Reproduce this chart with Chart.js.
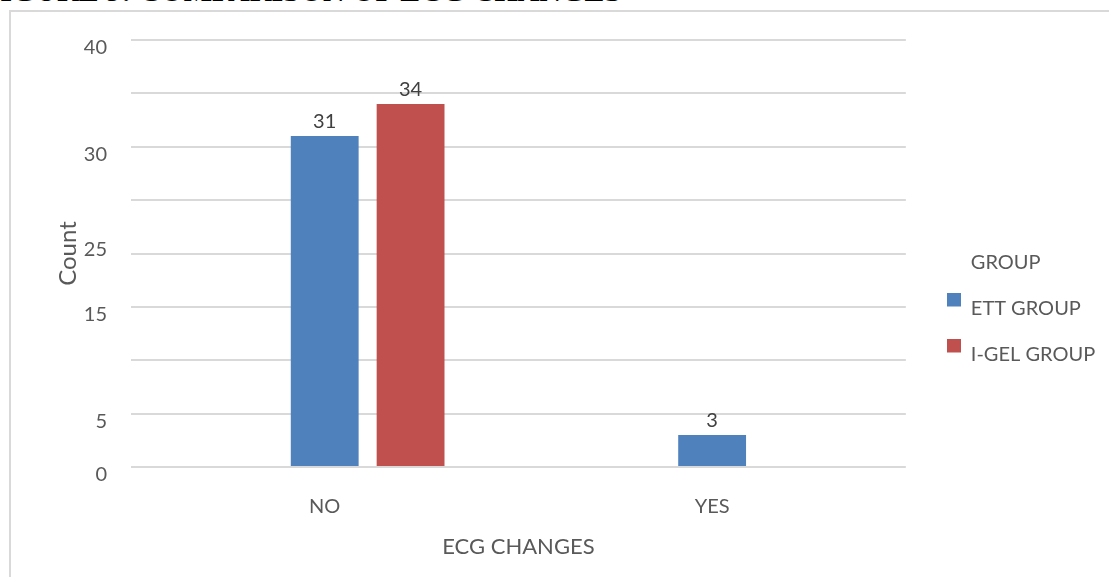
<!DOCTYPE html>
<html>
<head>
<meta charset="utf-8">
<script src="https://cdn.jsdelivr.net/npm/chart.js@4.4.1/dist/chart.umd.min.js"></script>
<style>
  body { margin: 0; background: #fff; }
  #wrap { position: relative; width: 1109px; height: 577px; overflow: hidden; }
  #fig { position: absolute; left: -18px; top: -24px; font: bold 30px "Liberation Serif"; line-height: 30px; white-space: nowrap; color: #000; }
  #frame { position: absolute; left: 9px; top: 10px; width: 1120px; height: 600px; border-left: 2px solid #d9d9d9; border-top: 2px solid #d9d9d9; }
  #box { position: absolute; left: 0; top: 0; width: 1109px; height: 577px; }
</style>
</head>
<body>
<div id="wrap">
  <div id="fig">FIGURE 9: COMPARISON OF ECG CHANGES</div>
  <div id="frame"></div>
  <div id="box"><canvas id="myChart"></canvas></div>
</div>
<script>
const ecgChanges = ['NO', 'YES'];
const ettGroup = [31, 3];
const igelGroup = [34, null];
// y tick labels as printed on the original, one per gridline (0..40 step 5)
const yTickLabels = ['0', '5', '', '15', ['25', ''], '', '30', '', '40'];

const blue = '#4f81bd';
const red = '#c0504d';
const grey = '#595959';
const fontFam = 'Lato, "Open Sans", sans-serif';

function swatch(color) {
  // square sits in the upper part, like the excel legend
  const c = document.createElement('canvas');
  c.width = 14; c.height = 32;
  const g = c.getContext('2d');
  g.fillStyle = color;
  g.fillRect(0, 0, 14, 14);
  return c;
}

const valueLabels = {
  id: 'valueLabels',
  afterDatasetsDraw(chart) {
    const ctx = chart.ctx;
    ctx.save();
    ctx.font = '20px ' + fontFam;
    ctx.fillStyle = '#404040';
    ctx.textAlign = 'center';
    ctx.textBaseline = 'alphabetic';
    chart.data.datasets.forEach((ds, i) => {
      if (i === 0) return;
      chart.getDatasetMeta(i).data.forEach((bar, j) => {
        if (ds.data[j] == null) return;
        ctx.fillText(ds.data[j], bar.x, bar.y - 8);
      });
    });
    ctx.restore();
  }
};

const ctx = document.getElementById('myChart');

new Chart(ctx, {
  type: 'bar',
  data: {
    labels: ecgChanges,
    datasets: [
      { label: '', data: [null, null] }, // empty slot so the blue bar sits on the category centre
      { label: 'ETT GROUP', data: ettGroup, backgroundColor: blue },
      { label: 'I-GEL GROUP', data: igelGroup, backgroundColor: red }
    ]
  },
  plugins: [valueLabels],
  options: {
    responsive: true,
    maintainAspectRatio: false,
    animation: false,
    categoryPercentage: 0.665,
    barPercentage: 0.79,
    layout: { padding: { top: 40, right: 4, bottom: 0, left: 0 } },
    scales: {
      x: {
        grid: { display: false, drawTicks: false },
        border: { display: false },
        ticks: { color: grey, font: { family: fontFam, size: 20 }, padding: 28 },
        title: { display: true, text: 'ECG CHANGES', color: grey, font: { family: fontFam, size: 22 }, padding: { top: 0, bottom: 17 } },
        afterFit(s) { s.height = 110; }
      },
      y: {
        min: 0,
        max: 40,
        grid: { color: '#d9d9d9', lineWidth: 2, drawTicks: false },
        border: { display: false },
        ticks: {
          stepSize: 5,
          color: grey,
          padding: 24,
          labelOffset: 8,
          font: { family: fontFam, size: 20 },
          callback: (v) => yTickLabels[v / 5]
        },
        title: { display: true, text: 'Count', color: grey, font: { family: fontFam, size: 24 }, padding: { top: 54, bottom: 0 } },
        afterFit(s) { s.width = 131; }
      },
      gap: {
        type: 'linear',
        position: 'right',
        grid: { display: false, drawTicks: false },
        border: { display: false },
        ticks: { display: false },
        afterFit(s) { s.width = 15; }
      }
    },
    plugins: {
      legend: {
        position: 'right',
        labels: {
          color: grey,
          font: { family: fontFam, size: 20 },
          boxWidth: 14,
          boxHeight: 14,
          padding: 26,
          usePointStyle: true,
          generateLabels(chart) {
            const items = Chart.defaults.plugins.legend.labels.generateLabels(chart)
              .filter(it => it.datasetIndex > 0)
              .map(it => Object.assign(it, { pointStyle: swatch(it.datasetIndex === 1 ? blue : red), fontColor: grey }));
            return [{ text: 'GROUP', fillStyle: 'rgba(0,0,0,0)', strokeStyle: 'rgba(0,0,0,0)', lineWidth: 0, fontColor: grey, pointStyle: 'rect' }].concat(items);
          }
        },
        onClick() {}
      },
      tooltip: { enabled: false }
    }
  }
});
</script>
</body>
</html>
